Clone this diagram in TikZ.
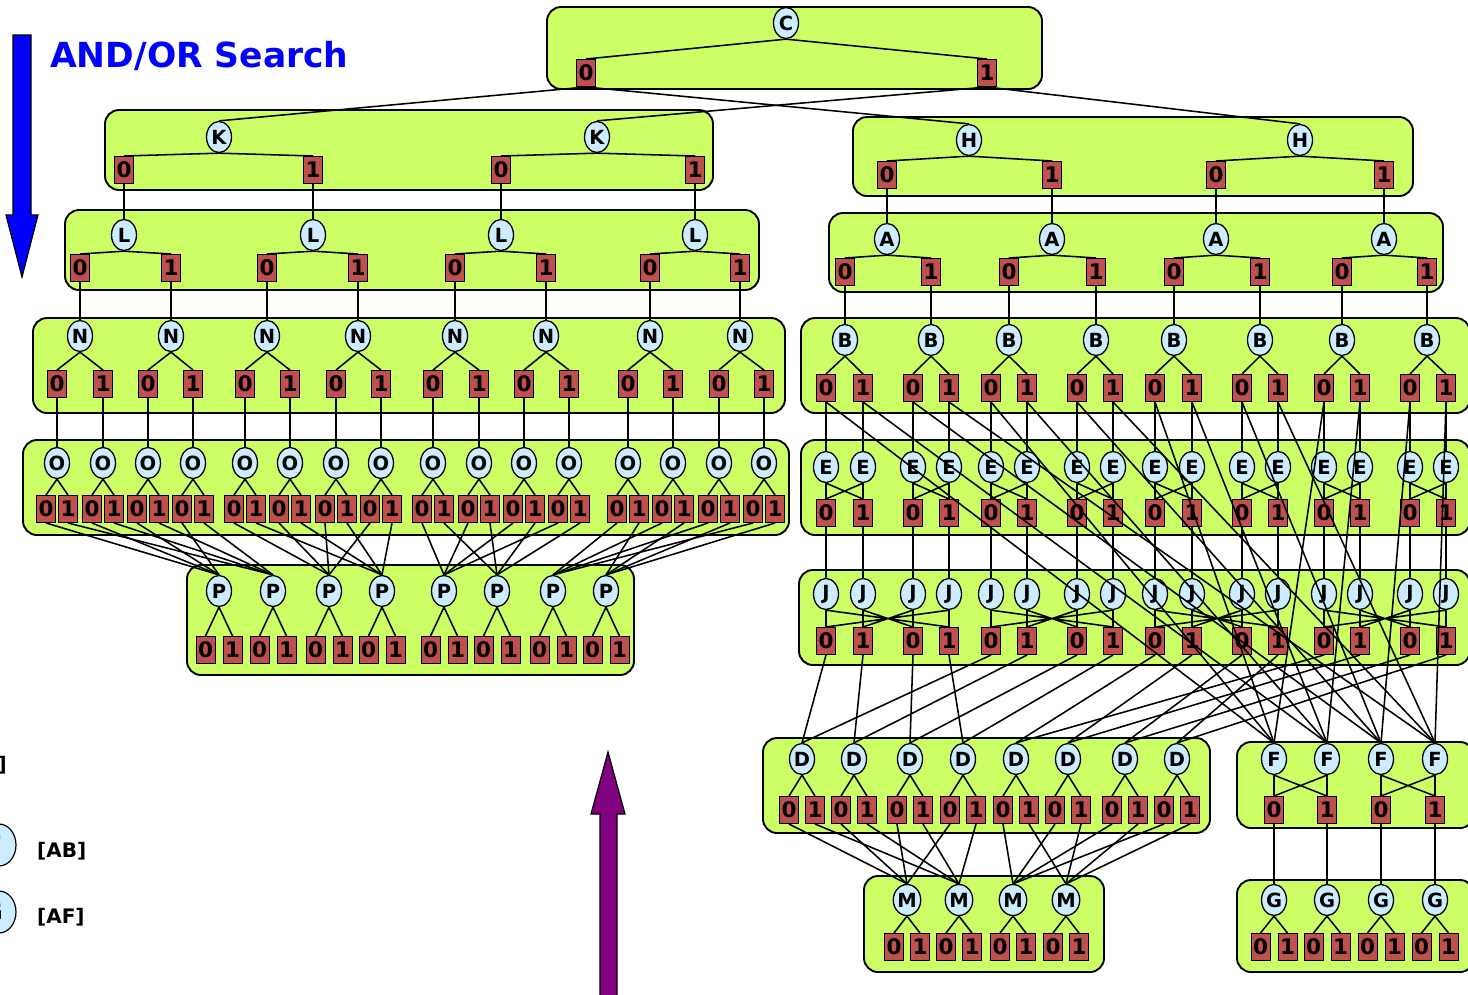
\documentclass[tikz,border=0pt]{standalone}
\usepackage{fontspec}
\setmainfont{DejaVu Sans}
\usetikzlibrary{shapes.geometric}
\definecolor{grpfill}{RGB}{204,255,102}
\definecolor{orfill}{RGB}{204,236,255}
\definecolor{valfill}{RGB}{192,80,77}
\definecolor{plum}{RGB}{128,0,128}
% parent i -> its two value boxes (2i-1, 2i)
\newcommand\vfan[3]{\foreach \i in {1,...,#3}{\pgfmathtruncatemacro\va{2*\i-1}\pgfmathtruncatemacro\vb{2*\i}\draw[lnk] (#1\i.south) -- (#2\va.north) (#1\i.south) -- (#2\vb.north);}}
% value box i -> child node i
\newcommand\vdown[3]{\foreach \i in {1,...,#3}{\draw[lnk] (#1\i.south) -- (#2\i.north);}}
\begin{document}
\begin{tikzpicture}[x=1pt,y=-1pt,
  grpbox/.style={draw=black,line width=1.9pt,fill=grpfill,rounded corners=14pt},
  ornode/.style={ellipse,draw=black,line width=1.3pt,fill=orfill,minimum width=25pt,minimum height=31pt,inner sep=0pt,font=\bfseries\fontsize{19.5}{19.5}\selectfont},
  valnode/.style={rectangle,draw=black,line width=1pt,fill=valfill,minimum width=19pt,minimum height=27pt,inner sep=0pt,font=\bfseries\fontsize{21.5}{21.5}\selectfont},
  lnk/.style={line width=1.55pt},
  bigarrow/.style={draw=black,line width=1.2pt}]
\useasboundingbox (0,0) rectangle (1468,994);

% ---------- group boxes ----------
\draw[grpbox] (547,7) rectangle (1042,89);     % C
\draw[grpbox] (105,110) rectangle (713,190);   % K
\draw[grpbox] (853,117) rectangle (1413,196);  % H
\draw[grpbox] (65,210) rectangle (759,290);    % L
\draw[grpbox] (829,213) rectangle (1443,292);  % A
\draw[grpbox] (33,318) rectangle (785,413);    % N
\draw[grpbox] (801,318) rectangle (1470,413);  % B
\draw[grpbox] (23,440) rectangle (789,535);    % O
\draw[grpbox] (801,440) rectangle (1470,535);  % E
\draw[grpbox] (187,565) rectangle (634,675);   % P
\draw[grpbox] (799,570) rectangle (1470,665);  % J
\draw[grpbox] (763,738) rectangle (1210,833);  % D
\draw[grpbox] (1237,742) rectangle (1474,828); % F
\draw[grpbox] (864,876) rectangle (1104,972);  % M
\draw[grpbox] (1237,880) rectangle (1474,972); % G

% ---------- title and direction arrows ----------
\node[anchor=base west,inner sep=0pt,text=blue,font=\bfseries\fontsize{34.5}{34.5}\selectfont] (title) at (50,67) {AND/OR Search};
\draw[bigarrow,fill=blue] (13,35) -- (31,35) -- (31,215) -- (38,215) -- (22,277) -- (6,215) -- (13,215) -- cycle;
\draw[bigarrow,fill=plum] (600,1000) -- (600,814) -- (591,814) -- (608,752) -- (625,814) -- (617,814) -- (617,1000) -- cycle;

% ---------- legend (left part lies outside the page) ----------
\node[anchor=base east,inner sep=0pt,font=\bfseries\fontsize{20}{20}\selectfont] (lgtop) at (7,771) {]};
\node[ellipse,draw=black,line width=1.2pt,fill=orfill,minimum width=34pt,minimum height=42pt] (lgf) at (-1,845) {};
\node[ellipse,draw=black,line width=1.2pt,fill=orfill,minimum width=34pt,minimum height=42pt] (lgg) at (-1,912) {};
\node[inner sep=0pt,font=\bfseries\fontsize{24}{24}\selectfont] (lgfl) at (-6,845) {F};
\node[inner sep=0pt,font=\bfseries\fontsize{24}{24}\selectfont] (lggl) at (-7,912) {G};
\node[anchor=west,inner sep=0pt,font=\bfseries\fontsize{20}{20}\selectfont] (lgab) at (37,851) {[AB]};
\node[anchor=west,inner sep=0pt,font=\bfseries\fontsize{20}{20}\selectfont] (lgaf) at (37,917) {[AF]};

% ---------- OR nodes and value boxes ----------
\node[ornode] (C) at (786,23) {C};
\node[valnode] (c0) at (586,73) {0};
\node[valnode] (c1) at (987,73) {1};

\foreach \x [count=\i] in {219,597} \node[ornode] (k\i) at (\x,137) {K};
\foreach \x [count=\i] in {124,313,501,695} {\pgfmathtruncatemacro\bt{mod(\i+1,2)}\node[valnode] (kv\i) at (\x,170) {\bt};}

\foreach \x [count=\i] in {969,1300} \node[ornode] (h\i) at (\x,140) {H};
\foreach \x [count=\i] in {887,1052,1216,1384} {\pgfmathtruncatemacro\bt{mod(\i+1,2)}\node[valnode] (hv\i) at (\x,175) {\bt};}

\foreach \x [count=\i] in {124,313,501,695} \node[ornode] (l\i) at (\x,235) {L};
\foreach \x [count=\i] in {80,171,267,358,455,546,650,740} {\pgfmathtruncatemacro\bt{mod(\i+1,2)}\node[valnode] (lv\i) at (\x,268) {\bt};}

\foreach \x [count=\i] in {887,1052,1216,1384} \node[ornode] (a\i) at (\x,239) {A};
\foreach \x [count=\i] in {845,931,1009,1096,1174,1260,1342,1427} {\pgfmathtruncatemacro\bt{mod(\i+1,2)}\node[valnode] (av\i) at (\x,272) {\bt};}

\foreach \x [count=\i] in {80,171,267,358,455,546,650,740} \node[ornode] (n\i) at (\x,336) {N};
\foreach \x [count=\i] in {57,103,148,193,245,290,336,381,433,479,524,569,628,673,719,764} {\pgfmathtruncatemacro\bt{mod(\i+1,2)}\node[valnode] (nv\i) at (\x,384) {\bt};}

\foreach \x [count=\i] in {845,931,1009,1096,1174,1260,1342,1427} \node[ornode] (b\i) at (\x,340) {B};
\foreach \x [count=\i] in {826,863,913,949,991,1027,1077,1113,1155,1192,1242,1278,1324,1360,1410,1446} {\pgfmathtruncatemacro\bt{mod(\i+1,2)}
  \node[valnode] (bv\i) at (\x,388) {\bt};
  \node[ornode] (e\i) at (\x,467) {E};
  \node[valnode] (ev\i) at (\x,513) {\bt};
  \node[ornode] (j\i) at (\x,594) {J};
  \node[valnode] (jv\i) at (\x,641) {\bt};}

\foreach \x [count=\i] in {57,103,148,193,245,290,336,381,433,479,524,569,628,673,719,764} {
  \pgfmathtruncatemacro\va{2*\i-1}\pgfmathtruncatemacro\vb{2*\i}
  \node[ornode] (o\i) at (\x,463) {O};
  \node[valnode] (ov\va) at (\x-11,509) {0};
  \node[valnode] (ov\vb) at (\x+11,509) {1};}

\foreach \x [count=\i] in {219,273,329,382,444,497,553,606} {
  \pgfmathtruncatemacro\va{2*\i-1}\pgfmathtruncatemacro\vb{2*\i}
  \node[ornode] (p\i) at (\x,591) {P};
  \node[valnode] (pv\va) at (\x-13.5,650) {0};
  \node[valnode] (pv\vb) at (\x+13.5,650) {1};}

\foreach \x [count=\i] in {802,854,910,963,1016,1068,1125,1177} {
  \pgfmathtruncatemacro\va{2*\i-1}\pgfmathtruncatemacro\vb{2*\i}
  \node[ornode] (d\i) at (\x,759) {D};
  \node[valnode] (dv\va) at (\x-13,810) {0};
  \node[valnode] (dv\vb) at (\x+13,810) {1};}

\foreach \x [count=\i] in {907,959,1013,1066} {
  \pgfmathtruncatemacro\va{2*\i-1}\pgfmathtruncatemacro\vb{2*\i}
  \node[ornode] (m\i) at (\x,900) {M};
  \node[valnode] (mv\va) at (\x-13,947) {0};
  \node[valnode] (mv\vb) at (\x+13,947) {1};}

\foreach \x [count=\i] in {1274,1327,1381,1435} {
  \pgfmathtruncatemacro\va{2*\i-1}\pgfmathtruncatemacro\vb{2*\i}\pgfmathtruncatemacro\bt{mod(\i+1,2)}
  \node[ornode] (f\i) at (\x,759) {F};
  \node[valnode] (fv\i) at (\x,810) {\bt};
  \node[ornode] (g\i) at (\x,900) {G};
  \node[valnode] (gv\va) at (\x-13.5,947) {0};
  \node[valnode] (gv\vb) at (\x+13.5,947) {1};}

% ---------- connectors ----------
\draw[lnk] (C.south) -- (c0.north) (C.south) -- (c1.north);
\draw[lnk] (c0.south) -- (k1.north) (c0.south) -- (h1.north);
\draw[lnk] (c1.south) -- (k2.north) (c1.south) -- (h2.north);

\vfan{k}{kv}{2} \vfan{h}{hv}{2}
\vdown{kv}{l}{4} \vdown{hv}{a}{4}
\vfan{l}{lv}{4} \vfan{a}{av}{4}
\vdown{lv}{n}{8} \vdown{av}{b}{8}
\vfan{n}{nv}{8} \vfan{b}{bv}{8}
\vdown{nv}{o}{16} \vdown{bv}{e}{16}
\vfan{o}{ov}{16}
\vdown{ev}{j}{16}
\vfan{p}{pv}{8} \vfan{d}{dv}{8} \vfan{m}{mv}{4} \vfan{g}{gv}{4}
\vdown{fv}{g}{4}

% E nodes share the value boxes of their pair
\foreach \k in {1,...,8} {\pgfmathtruncatemacro\va{2*\k-1}\pgfmathtruncatemacro\vb{2*\k}
  \draw[lnk] (e\va.south) -- (ev\va.north) (e\va.south) -- (ev\vb.north)
             (e\vb.south) -- (ev\va.north) (e\vb.south) -- (ev\vb.north);}
% F nodes likewise
\foreach \k in {1,2} {\pgfmathtruncatemacro\va{2*\k-1}\pgfmathtruncatemacro\vb{2*\k}
  \draw[lnk] (f\va.south) -- (fv\va.north) (f\va.south) -- (fv\vb.north)
             (f\vb.south) -- (fv\va.north) (f\vb.south) -- (fv\vb.north);}
% J nodes: blocks of four sharing four value boxes
\foreach \q in {0,...,3} {\pgfmathtruncatemacro\ja{4*\q+1}\pgfmathtruncatemacro\jb{4*\q+2}\pgfmathtruncatemacro\jc{4*\q+3}\pgfmathtruncatemacro\jd{4*\q+4}
  \draw[lnk] (j\ja.south) -- (jv\ja.north) (j\ja.south) -- (jv\jd.north)
             (j\jb.south) -- (jv\jb.north) (j\jb.south) -- (jv\jc.north)
             (j\jc.south) -- (jv\jc.north) (j\jc.south) -- (jv\jb.north)
             (j\jd.south) -- (jv\jd.north) (j\jd.south) -- (jv\ja.north);}

% O values -> P
\foreach \i in {1,...,32} {\pgfmathtruncatemacro\pt{2*floor((ceil(\i/2)-1)/4)+1+mod(\i-1,2)}
  \draw[lnk] (ov\i.south) -- (p\pt.north);}
% B values -> F
\foreach \i in {1,...,16} {\pgfmathtruncatemacro\ft{ifthenelse(mod(ceil(\i/2),2)==1,1,3)+mod(\i-1,2)}
  \draw[lnk] (bv\i.south) -- (f\ft.north);}
% J values -> D
\foreach \i in {1,...,16} {\pgfmathtruncatemacro\dt{mod(\i-1,4)+1+4*floor((\i-1)/8)}
  \draw[lnk] (jv\i.south) -- (d\dt.north);}
% D values -> M
\foreach \i in {1,...,16} {\pgfmathtruncatemacro\mt{ifthenelse(\i<=8,1,3)+mod(\i-1,2)}
  \draw[lnk] (dv\i.south) -- (m\mt.north);}
\end{tikzpicture}
\end{document}
